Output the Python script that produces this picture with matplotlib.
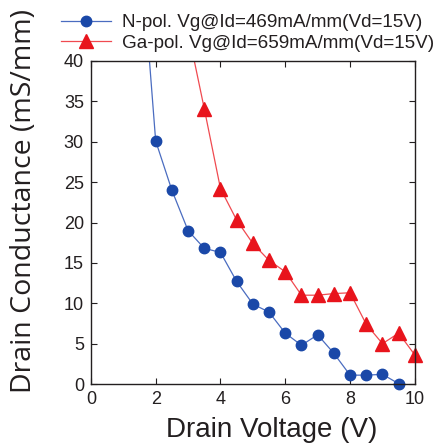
import matplotlib.pyplot as plt

plt.rcParams['font.family'] = ['Liberation Sans', 'DejaVu Sans']

# N-polar data (blue circles); first point lies above the 40 limit
n_vd = [1.5, 2, 2.5, 3, 3.5, 4, 4.5, 5, 5.5, 6, 6.5, 7, 7.5, 8, 8.5, 9, 9.5]
n_gd = [56, 30.1, 24.0, 19.0, 16.8, 16.3, 12.7, 9.9, 8.9, 6.3, 4.8, 6.1, 3.8, 1.1, 1.1, 1.2, 0.05]

# Ga-polar data (red triangles); first point lies above the 40 limit
ga_vd = [3, 3.5, 4, 4.5, 5, 5.5, 6, 6.5, 7, 7.5, 8, 8.5, 9, 9.5, 10]
ga_gd = [43.7, 34.1, 24.2, 20.3, 17.4, 15.3, 13.9, 11.0, 11.0, 11.2, 11.3, 7.4, 5.0, 6.3, 3.6]

txt = '#231f20'
blue_line, blue_mk = '#4a6cc0', '#1a48a8'
red_line, red_mk = '#f04a50', '#e8141c'

fig = plt.figure(figsize=(4.39, 4.45), dpi=100)
ax = fig.add_axes([0.207, 0.137, 0.738, 0.726])

# lines clipped to the axes, markers allowed to overhang the frame
ax.plot(n_vd, n_gd, color=blue_line, lw=0.9)
ax.plot(ga_vd, ga_gd, color=red_line, lw=0.9)
ax.plot(n_vd[1:], n_gd[1:], ls='none', marker='o', ms=7.5,
        mfc=blue_mk, mec=blue_mk, clip_on=False)
ax.plot(ga_vd[1:], ga_gd[1:], ls='none', marker='^', ms=9.5,
        mfc=red_mk, mec=red_mk, clip_on=False)

# legend proxies
ax.plot([], [], color=blue_line, lw=0.9, marker='o', ms=7.5, mfc=blue_mk, mec=blue_mk,
        label='N-pol. Vg@Id=469mA/mm(Vd=15V)')
ax.plot([], [], color=red_line, lw=0.9, marker='^', ms=9.5, mfc=red_mk, mec=red_mk,
        label='Ga-pol. Vg@Id=659mA/mm(Vd=15V)')

ax.set_xlim(0, 10)
ax.set_ylim(0, 40)
ax.set_xticks([0, 2, 4, 6, 8, 10])
ax.set_yticks([0, 5, 10, 15, 20, 25, 30, 35, 40])
ax.tick_params(direction='in', top=True, right=True, labelsize=13, colors=txt,
               length=4, width=0.8, labelcolor=txt, pad=5)
for s in ax.spines.values():
    s.set_color(txt)
    s.set_linewidth(1)

ax.set_xlabel('Drain Voltage (V)', fontsize=20, color=txt)
ax.xaxis.set_label_coords(0.557, -0.102)
ax.set_ylabel('Drain Conductance (mS/mm)', fontsize=20.5, color=txt,
              family=['Open Sans', 'DejaVu Sans'])
ax.yaxis.set_label_coords(-0.164, 0.567)

ax.legend(loc='lower left', bbox_to_anchor=(-0.115, 1.005), frameon=False,
          fontsize=13.6, handlelength=2.65, handletextpad=0.55, labelspacing=0.18,
          borderaxespad=0, labelcolor=txt)

fig.savefig('out.png', dpi=100)
